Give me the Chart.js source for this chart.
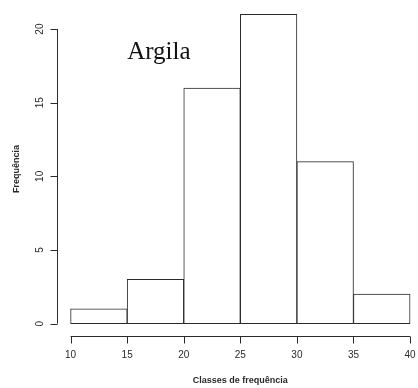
<!DOCTYPE html>
<html>
<head>
<meta charset="utf-8">
<script src="https://cdn.jsdelivr.net/npm/chart.js@4"></script>
<style>
  html, body { margin: 0; padding: 0; background: #fff; overflow: hidden; }
  #wrap { width: 418px; height: 388px; }
</style>
</head>
<body>
<div id="wrap"><canvas id="hist" width="418" height="388"></canvas></div>
<script>
// Histogram "Argila" data
const binStarts = [10, 15, 20, 25, 30, 35];
const binWidth = 5;
const counts = [1, 3, 16, 21, 11, 2];
const xTicks = [10, 15, 20, 25, 30, 35, 40];
const yTicks = [0, 5, 10, 15, 20];

const ink = '#2a2a2a';

// R style axes, drawn from the chart scales
const rAxes = {
    id: 'rAxes',
    afterDraw(chart) {
        const ctx = chart.ctx;
        const xs = chart.scales.x;
        const ys = chart.scales.y;
        const area = chart.chartArea;
        ctx.save();
        ctx.strokeStyle = ink;
        ctx.fillStyle = ink;
        ctx.lineWidth = 1;

        // y axis
        const yx = area.left + 0.5;
        ctx.beginPath();
        ctx.moveTo(yx, ys.getPixelForValue(yTicks[0]));
        ctx.lineTo(yx, ys.getPixelForValue(yTicks[yTicks.length - 1]));
        yTicks.forEach(v => {
            const py = Math.round(ys.getPixelForValue(v)) + 0.5;
            ctx.moveTo(yx, py);
            ctx.lineTo(yx - 7, py);
        });
        ctx.stroke();
        ctx.font = '10px "Liberation Sans", Arial, sans-serif';
        ctx.textAlign = 'center';
        ctx.textBaseline = 'middle';
        yTicks.forEach(v => {
            ctx.save();
            ctx.translate(40, ys.getPixelForValue(v));
            ctx.rotate(-Math.PI / 2);
            ctx.fillText(String(v), 0, 0);
            ctx.restore();
        });

        // x axis
        const xy = area.bottom + 0.5;
        ctx.beginPath();
        ctx.moveTo(xs.getPixelForValue(xTicks[0]), xy);
        ctx.lineTo(xs.getPixelForValue(xTicks[xTicks.length - 1]), xy);
        xTicks.forEach(v => {
            const px = Math.round(xs.getPixelForValue(v)) + 0.5;
            ctx.moveTo(px, xy);
            ctx.lineTo(px, xy + 7);
        });
        ctx.stroke();
        xTicks.forEach(v => {
            ctx.fillText(String(v), xs.getPixelForValue(v), 355);
        });

        // axis titles
        ctx.font = 'bold 9px "Liberation Sans", Arial, sans-serif';
        ctx.fillText('Classes de frequência', xs.getPixelForValue(25), 381);
        ctx.save();
        ctx.translate(17, (area.top + area.bottom) / 2);
        ctx.rotate(-Math.PI / 2);
        ctx.fillText('Frequência', 0, 0);
        ctx.restore();

        // panel label
        ctx.font = '25px "Liberation Serif", "Times New Roman", serif';
        ctx.fillStyle = '#111';
        ctx.fillText('Argila', xs.getPixelForValue(17.8), ys.getPixelForValue(18.4));
        ctx.restore();
    }
};

new Chart(document.getElementById('hist'), {
    type: 'bar',
    data: {
        datasets: [{
            data: binStarts.map((s, i) => ({ x: s + binWidth / 2, y: counts[i] })),
            backgroundColor: '#ffffff',
            borderColor: ink,
            borderWidth: 1,
            borderSkipped: false,
            barPercentage: 1,
            categoryPercentage: 1
        }]
    },
    options: {
        responsive: false,
        animation: false,
        events: [],
        layout: {
            padding: { left: 57, top: 2, right: 0, bottom: 52 }
        },
        plugins: {
            legend: { display: false },
            tooltip: { enabled: false }
        },
        scales: {
            x: {
                type: 'linear',
                display: false,
                offset: false,
                min: 8.8,
                max: 40.7
            },
            y: {
                type: 'linear',
                display: false,
                min: -0.84,
                max: 21.84
            }
        }
    },
    plugins: [rAxes]
});
</script>
</body>
</html>
